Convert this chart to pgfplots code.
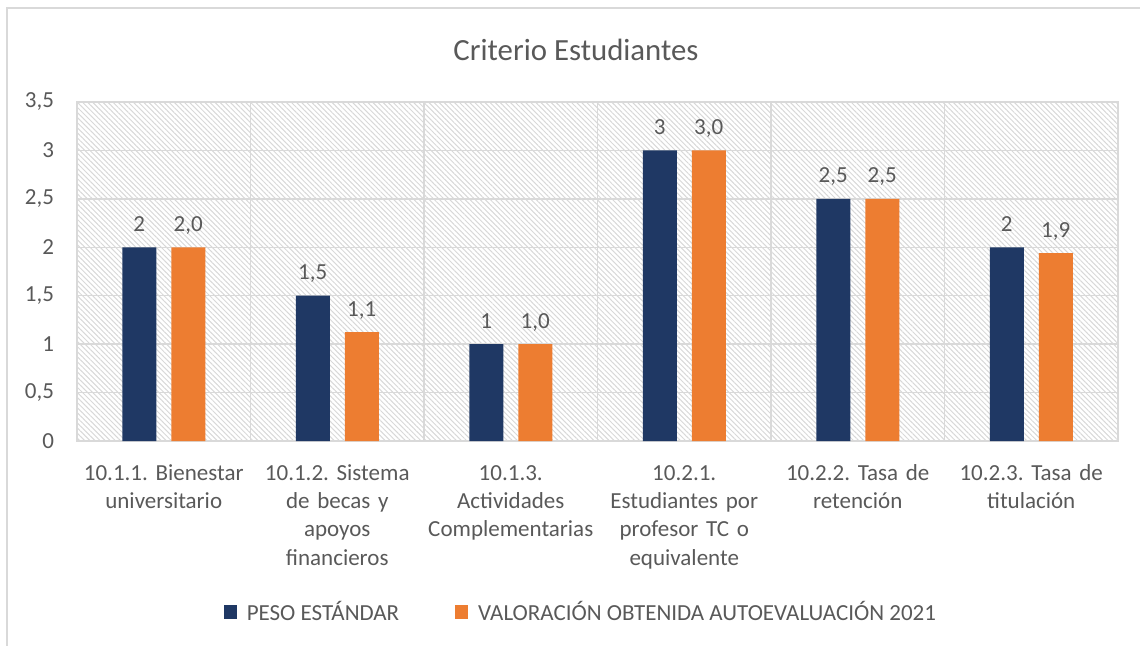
\documentclass[border=0pt]{standalone}
\usepackage{fontspec}
\setmainfont{Carlito}
\usepackage{pgfplots}
\pgfplotsset{compat=1.18}
\usetikzlibrary{patterns.meta}
\definecolor{navy}{HTML}{1F3864}
\definecolor{orng}{HTML}{ED7D31}
\definecolor{txt}{HTML}{595959}
\definecolor{gridc}{HTML}{D9D9D9}
\definecolor{hatchc}{HTML}{D8D8D8}
\begin{document}
\frenchspacing
\begin{tikzpicture}
\useasboundingbox (0,0) rectangle (570pt,-323pt);
\draw[gridc, line width=0.75pt] (3.5pt,-323pt) -- (3.5pt,-4pt) -- (570pt,-4pt);
\node[text=txt, font=\fontsize{15.4}{18}\selectfont] at (288pt,-25pt) {Criterio Estudiantes};
\begin{axis}[
  at={(38.5pt,-220.5pt)}, anchor=south west,
  scale only axis, width=520.5pt, height=169.5pt,
  xmin=-0.5, xmax=5.5, ymin=0, ymax=3.5,
  ytick={0,0.5,1,1.5,2,2.5,3,3.5},
  xtick={0,1,2,3,4,5},
  minor xtick={-0.5,0.5,1.5,2.5,3.5,4.5,5.5},
  xticklabels={{10.1.1. Bienestar\\universitario},{10.1.2. Sistema\\de becas y\\apoyos\\financieros},{10.1.3.\\Actividades\\Complementarias},{10.2.1.\\Estudiantes por\\profesor TC o\\equivalente},{10.2.2. Tasa de\\retención},{10.2.3. Tasa de\\titulación}},
  major tick length=0pt, minor tick length=0pt,
  xmajorgrids=false, xminorgrids=true, ymajorgrids=true,
  major grid style={gridc, line width=0.75pt},
  minor grid style={gridc, line width=0.75pt},
  axis line style={gridc, line width=0.75pt},
  axis background/.style={pattern={Lines[angle=-45,distance=1.8pt,line width=0.5pt]}, pattern color=hatchc},
  ticklabel style={font=\fontsize{11.5}{14.2}\selectfont\frenchspacing, text=txt},
  /pgf/number format/.cd, use comma, assume math mode=true,
  /pgfplots/.cd,
  yticklabel style={anchor=east, xshift=-8pt},
  xticklabel style={anchor=base, yshift=-19.5pt, text width=100pt, align=center},
  ybar, bar width=17pt,
  nodes near coords,
  point meta=explicit symbolic,
  every node near coord/.append style={anchor=base, yshift=8pt, font=\fontsize{11.5}{14}\selectfont, text=txt},
  legend style={at={(0.485,-0.507)}, anchor=center, draw=none, fill=none, legend columns=2,
    font=\fontsize{11.5}{14}\selectfont, text=txt,
    /tikz/every odd column/.append style={column sep=3pt},
    /tikz/every even column/.append style={column sep=26pt}},
]
\addplot[fill=navy, draw=none, bar shift=-12.25pt,
  legend image code/.code={\fill[navy] (0pt,-3.3pt) rectangle (6.5pt,3.7pt);}]
  table[meta=label] {
x y label
0 2 2
1 1.5 1,5
2 1 1
3 3 3
4 2.5 2,5
5 2 2
};
\addplot[fill=orng, draw=none, bar shift=12.25pt,
  legend image code/.code={\fill[orng] (0pt,-3.3pt) rectangle (6.5pt,3.7pt);}]
  table[meta=label] {
x y label
0 2.0 2,0
1 1.125 1,1
2 1.0 1,0
3 3.0 3,0
4 2.5 2,5
5 1.94 1,9
};
\legend{PESO ESTÁNDAR, VALORACIÓN OBTENIDA AUTOEVALUACIÓN 2021}
\end{axis}
\end{tikzpicture}
\end{document}
